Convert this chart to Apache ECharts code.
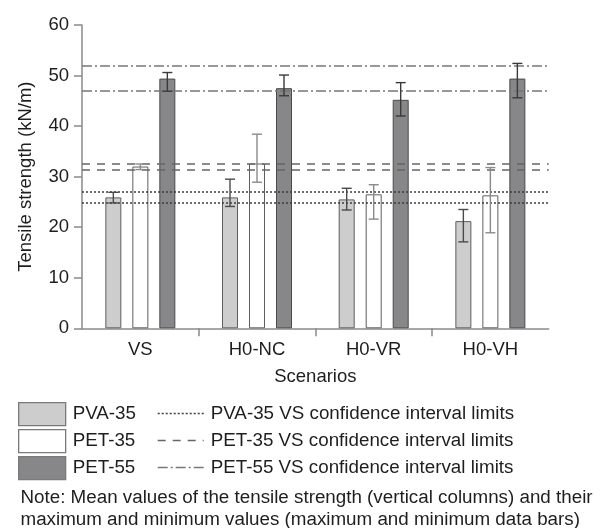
<!DOCTYPE html>
<html><head><meta charset="utf-8">
<script src="https://cdn.jsdelivr.net/npm/echarts@6/dist/echarts.min.js"></script>
<style>html,body{margin:0;padding:0;background:#fff}#c{width:601px;height:528px}</style>
</head><body><div id="c"></div>
<script>
const categories = ['VS', 'H0-NC', 'H0-VR', 'H0-VH'];
const pva35Mean = [25.9, 25.9, 25.5, 21.2];
const pva35Max  = [26.9, 29.5, 27.7, 23.5];
const pva35Min  = [24.8, 24.1, 23.4, 17.1];
const pet35Mean = [32.0, 32.6, 26.5, 26.3];
const pet35Max  = [32.5, 38.4, 28.4, 31.8];
const pet35Min  = [31.4, 28.9, 21.6, 18.9];
const pet55Mean = [49.4, 47.5, 45.2, 49.4];
const pet55Max  = [50.6, 50.1, 48.6, 52.4];
const pet55Min  = [46.9, 46.0, 42.0, 45.6];
const pva35CI = [24.8, 27.0];
const pet35CI = [31.3, 32.5];
const pet55CI = [46.9, 51.9];
const boundaryTicks = [1, 2, 3];
const noteLines = [
  'Note: Mean values of the tensile strength (vertical columns) and their',
  'maximum and minimum values (maximum and minimum data bars)'
];

const FONT = 'Liberation Sans, Arial, Helvetica, sans-serif';
const FS = 18.5;
const FSL = 18.8;
const TXT = '#1e1e1e';
const AX = '#8a8a8a';

function errorSeries(name, idx, mins, maxs, color) {
  return {
    type: 'custom', name: name, z: 5, silent: true,
    data: categories.map((c, i) => [i, mins[i], maxs[i]]),
    encode: { x: 0, y: [1, 2] },
    renderItem: function (params, api) {
      const x = api.value(0);
      const lo = api.coord([x, api.value(1)]);
      const hi = api.coord([x, api.value(2)]);
      const cx = lo[0] + (idx - 1) * 27;
      const hw = 5;
      const st = { stroke: color, lineWidth: 1.4 };
      return { type: 'group', children: [
        { type: 'line', shape: { x1: cx, y1: hi[1], x2: cx, y2: lo[1] }, style: st },
        { type: 'line', shape: { x1: cx - hw, y1: hi[1], x2: cx + hw, y2: hi[1] }, style: st },
        { type: 'line', shape: { x1: cx - hw, y1: lo[1], x2: cx + hw, y2: lo[1] }, style: st }
      ]};
    }
  };
}

function ciSeries(name, vals, color, type) {
  return {
    type: 'line', name: name, data: [], symbol: 'none',
    lineStyle: { color: color, width: 1.6, type: type },
    itemStyle: { color: color },
    markLine: {
      silent: true, symbol: 'none', animation: false,
      label: { show: false },
      lineStyle: { color: color, width: 1.6, type: type },
      data: vals.map(v => ({ yAxis: v }))
    }
  };
}

const barCommon = { type: 'bar', barWidth: 16, barGap: '68.75%', animation: false };

const option = {
  animation: false,
  grid: { left: 82, right: 52.3, top: 25, bottom: 199.7, containLabel: false },
  xAxis: [{
    type: 'category', data: categories,
    name: 'Scenarios', nameLocation: 'middle', nameGap: 39,
    nameTextStyle: { fontSize: FS, color: TXT, fontFamily: FONT },
    axisLine: { lineStyle: { color: AX, width: 1.5 } },
    axisTick: { show: false },
    axisLabel: { fontSize: FS, color: TXT, fontFamily: FONT, margin: 12 },
    splitLine: { show: false }
  }, {
    type: 'value', min: 0, max: 4, position: 'bottom',
    axisLine: { show: false },
    axisLabel: { show: false },
    splitLine: { show: false },
    axisTick: { show: true, length: 8, customValues: boundaryTicks, lineStyle: { color: AX, width: 1.5 } }
  }],
  yAxis: {
    type: 'value', min: 0, max: 60, interval: 10,
    name: 'Tensile strength (kN/m)', nameLocation: 'middle', nameGap: 47,
    nameTextStyle: { fontSize: FS, color: TXT, fontFamily: FONT },
    axisLine: { show: true, lineStyle: { color: AX, width: 1.5 } },
    axisTick: { show: true, length: 8, lineStyle: { color: AX, width: 1.5 } },
    axisLabel: { fontSize: FS, color: TXT, fontFamily: FONT, margin: 13 },
    splitLine: { show: false }
  },
  legend: [{
    data: ['PVA-35', 'PET-35', 'PET-55'],
    orient: 'vertical', left: 18, top: 402, padding: 0,
    itemWidth: 47, itemHeight: 23, itemGap: 2.7, selectedMode: false,
    icon: 'rect',
    itemStyle: { borderWidth: 1.3, borderColor: '#7a7a7a' },
    textStyle: { fontSize: FSL, color: TXT, fontFamily: FONT, lineHeight: 23, padding: [0, 0, 0, 2] }
  }, {
    data: ['PVA-35 VS confidence interval limits', 'PET-35 VS confidence interval limits', 'PET-55 VS confidence interval limits'],
    orient: 'vertical', left: 157, top: 402, padding: 0,
    itemWidth: 46, itemHeight: 23, itemGap: 4, selectedMode: false,
    itemStyle: { opacity: 0 },
    lineStyle: { width: 1.4 },
    textStyle: { fontSize: FSL, color: TXT, fontFamily: FONT, lineHeight: 23, padding: [0, 0, 0, 2] }
  }],
  graphic: noteLines.map((t, i) => ({
    type: 'text', x: 20.5, y: 498 + i * 22,
    style: { text: t, font: FSL + 'px ' + FONT, fill: TXT, verticalAlign: 'middle' }
  })),
  series: [
    Object.assign({}, barCommon, { name: 'PVA-35', data: pva35Mean, itemStyle: { color: '#cdcdcd', borderColor: '#5e5e5e', borderWidth: 1 } }),
    Object.assign({}, barCommon, { name: 'PET-35', data: pet35Mean, itemStyle: { color: '#ffffff', borderColor: '#5e5e5e', borderWidth: 1 } }),
    Object.assign({}, barCommon, { name: 'PET-55', data: pet55Mean, itemStyle: { color: '#87878a', borderColor: '#4a4a4a', borderWidth: 1 } }),
    errorSeries('PVA-35 range', 0, pva35Min, pva35Max, '#4a4a4a'),
    errorSeries('PET-35 range', 1, pet35Min, pet35Max, '#8a8a8a'),
    errorSeries('PET-55 range', 2, pet55Min, pet55Max, '#3a3a3a'),
    ciSeries('PVA-35 VS confidence interval limits', pva35CI, '#3c3c3c', [2, 2]),
    ciSeries('PET-35 VS confidence interval limits', pet35CI, '#666666', [8, 7]),
    ciSeries('PET-55 VS confidence interval limits', pet55CI, '#777777', [10, 3, 2, 3])
  ]
};
const chart = echarts.init(document.getElementById('c'), null, { renderer: 'canvas' });
chart.setOption(option);
</script></body></html>
